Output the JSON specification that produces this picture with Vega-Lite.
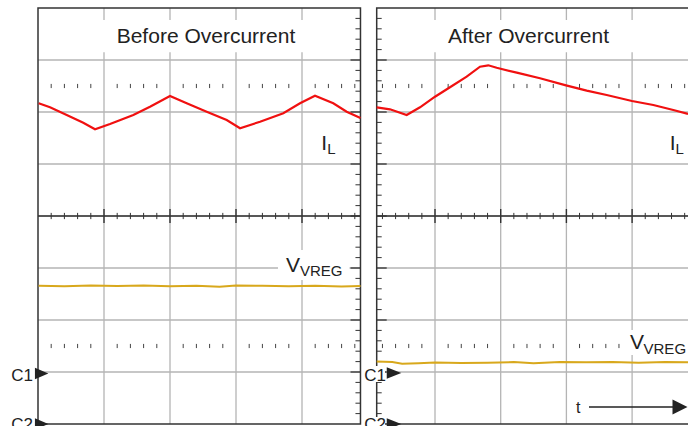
{
  "$schema": "https://vega.github.io/schema/vega-lite/v6.json",
  "width": 650,
  "height": 416,
  "autosize": {"type": "none"},
  "padding": {"left": 38, "top": 8, "right": 0, "bottom": 2},
  "background": "white",
  "config": {"view": {"stroke": null}, "text": {"font": "Liberation Sans", "color": "#222222"}},
  "datasets": {
    "major": [{"v": 1}, {"v": 2}, {"v": 3}, {"v": 4}],
    "yMajor": [{"v": -3}, {"v": -2}, {"v": -1}, {"v": 0}, {"v": 1}, {"v": 2}, {"v": 3}],
    "xMinor": [{"v": 0.2}, {"v": 0.4}, {"v": 0.6}, {"v": 0.8}, {"v": 1.2}, {"v": 1.4}, {"v": 1.6}, {"v": 1.8}, {"v": 2.2}, {"v": 2.4}, {"v": 2.6}, {"v": 2.8}, {"v": 3.2}, {"v": 3.4}, {"v": 3.6}, {"v": 3.8}, {"v": 4.2}, {"v": 4.4}, {"v": 4.6}, {"v": 4.8}],
    "yMinor": [{"v": -3.8}, {"v": -3.6}, {"v": -3.4}, {"v": -3.2}, {"v": -2.8}, {"v": -2.6}, {"v": -2.4}, {"v": -2.2}, {"v": -1.8}, {"v": -1.6}, {"v": -1.4}, {"v": -1.2}, {"v": -0.8}, {"v": -0.6}, {"v": -0.4}, {"v": -0.2}, {"v": 0.2}, {"v": 0.4}, {"v": 0.6}, {"v": 0.8}, {"v": 1.2}, {"v": 1.4}, {"v": 1.6}, {"v": 1.8}, {"v": 2.2}, {"v": 2.4}, {"v": 2.6}, {"v": 2.8}, {"v": 3.2}, {"v": 3.4}, {"v": 3.6}, {"v": 3.8}],
    "redL": [{"x": 0.01, "y": 2.167}, {"x": 0.182, "y": 2.09}, {"x": 0.435, "y": 1.942}, {"x": 0.686, "y": 1.794}, {"x": 0.864, "y": 1.667}, {"x": 1.091, "y": 1.769}, {"x": 1.444, "y": 1.942}, {"x": 1.697, "y": 2.102}, {"x": 2.0, "y": 2.308}, {"x": 2.253, "y": 2.167}, {"x": 2.556, "y": 2.006}, {"x": 2.859, "y": 1.846}, {"x": 3.061, "y": 1.687}, {"x": 3.364, "y": 1.813}, {"x": 3.717, "y": 1.975}, {"x": 3.97, "y": 2.167}, {"x": 4.197, "y": 2.313}, {"x": 4.474, "y": 2.167}, {"x": 4.677, "y": 2.006}, {"x": 4.886, "y": 1.885}],
    "yelL": [{"x": 0.01, "y": -1.342}, {"x": 0.4, "y": -1.35}, {"x": 0.8, "y": -1.338}, {"x": 1.2, "y": -1.346}, {"x": 1.6, "y": -1.335}, {"x": 2.0, "y": -1.35}, {"x": 2.4, "y": -1.342}, {"x": 2.75, "y": -1.36}, {"x": 3.0, "y": -1.338}, {"x": 3.4, "y": -1.34}, {"x": 3.8, "y": -1.35}, {"x": 4.2, "y": -1.34}, {"x": 4.6, "y": -1.355}, {"x": 4.886, "y": -1.346}],
    "redR": [{"x": 0.113, "y": 2.09}, {"x": 0.315, "y": 2.052}, {"x": 0.569, "y": 1.942}, {"x": 0.772, "y": 2.09}, {"x": 1.0, "y": 2.294}, {"x": 1.228, "y": 2.475}, {"x": 1.482, "y": 2.679}, {"x": 1.685, "y": 2.871}, {"x": 1.811, "y": 2.898}, {"x": 1.939, "y": 2.852}, {"x": 2.244, "y": 2.756}, {"x": 2.598, "y": 2.648}, {"x": 2.994, "y": 2.513}, {"x": 3.309, "y": 2.41}, {"x": 3.613, "y": 2.327}, {"x": 3.998, "y": 2.212}, {"x": 4.323, "y": 2.135}, {"x": 4.627, "y": 2.038}, {"x": 4.851, "y": 1.962}],
    "yelR": [{"x": 0.113, "y": -2.8}, {"x": 0.35, "y": -2.808}, {"x": 0.5, "y": -2.84}, {"x": 0.75, "y": -2.83}, {"x": 1.0, "y": -2.815}, {"x": 1.4, "y": -2.825}, {"x": 1.8, "y": -2.82}, {"x": 2.2, "y": -2.81}, {"x": 2.5, "y": -2.83}, {"x": 2.9, "y": -2.808}, {"x": 3.3, "y": -2.812}, {"x": 3.7, "y": -2.808}, {"x": 4.1, "y": -2.82}, {"x": 4.5, "y": -2.81}, {"x": 4.851, "y": -2.812}]
  },
  "resolve": {"scale": {"x": "independent"}},
  "layer": [
    {
      "layer": [
        {"data": {"name": "major"}, "mark": {"type": "rule", "color": "#b4b4b4", "strokeWidth": 1.3},
         "encoding": {"x": {"field": "v", "type": "quantitative", "scale": {"domain": [0, 9.8485], "nice": false, "zero": false}, "axis": null},
                      "y": {"datum": -4, "type": "quantitative", "scale": {"domain": [-4, 4], "nice": false, "zero": false}, "axis": null}, "y2": {"datum": 4}}},
        {"data": {"name": "yMajor"}, "mark": {"type": "rule", "color": "#b4b4b4", "strokeWidth": 1.3},
         "encoding": {"y": {"field": "v", "type": "quantitative", "scale": {"domain": [-4, 4], "nice": false, "zero": false}, "axis": null},
                      "x": {"datum": 0, "type": "quantitative", "scale": {"domain": [0, 9.8485], "nice": false, "zero": false}, "axis": null}, "x2": {"datum": 4.886}}},
        {"data": {"name": "xMinor"}, "mark": {"type": "rule", "color": "#444444", "strokeWidth": 1},
         "encoding": {"x": {"field": "v", "type": "quantitative", "scale": {"domain": [0, 9.8485], "nice": false, "zero": false}, "axis": null},
                      "y": {"datum": 2.54, "type": "quantitative", "scale": {"domain": [-4, 4], "nice": false, "zero": false}, "axis": null}, "y2": {"datum": 2.46}}},
        {"data": {"name": "xMinor"}, "mark": {"type": "rule", "color": "#444444", "strokeWidth": 1},
         "encoding": {"x": {"field": "v", "type": "quantitative", "scale": {"domain": [0, 9.8485], "nice": false, "zero": false}, "axis": null},
                      "y": {"datum": -2.46, "type": "quantitative", "scale": {"domain": [-4, 4], "nice": false, "zero": false}, "axis": null}, "y2": {"datum": -2.54}}},
        {"data": {"values": [{}]}, "mark": {"type": "rule", "color": "#333333", "strokeWidth": 1.3},
         "encoding": {"x": {"datum": 0, "type": "quantitative", "scale": {"domain": [0, 9.8485], "nice": false, "zero": false}, "axis": null}, "x2": {"datum": 4.886},
                      "y": {"datum": 0, "type": "quantitative", "scale": {"domain": [-4, 4], "nice": false, "zero": false}, "axis": null}}},
        {"data": {"name": "xMinor"}, "mark": {"type": "rule", "color": "#333333", "strokeWidth": 1},
         "encoding": {"x": {"field": "v", "type": "quantitative", "scale": {"domain": [0, 9.8485], "nice": false, "zero": false}, "axis": null},
                      "y": {"datum": 0.06, "type": "quantitative", "scale": {"domain": [-4, 4], "nice": false, "zero": false}, "axis": null}, "y2": {"datum": -0.06}}},
        {"data": {"name": "major"}, "mark": {"type": "rule", "color": "#333333", "strokeWidth": 1.4},
         "encoding": {"x": {"field": "v", "type": "quantitative", "scale": {"domain": [0, 9.8485], "nice": false, "zero": false}, "axis": null},
                      "y": {"datum": 0.135, "type": "quantitative", "scale": {"domain": [-4, 4], "nice": false, "zero": false}, "axis": null}, "y2": {"datum": -0.135}}},
        {"data": {"name": "yMinor"}, "mark": {"type": "rule", "color": "#333333", "strokeWidth": 1},
         "encoding": {"y": {"field": "v", "type": "quantitative", "scale": {"domain": [-4, 4], "nice": false, "zero": false}, "axis": null},
                      "x": {"datum": 4.81, "type": "quantitative", "scale": {"domain": [0, 9.8485], "nice": false, "zero": false}, "axis": null}, "x2": {"datum": 4.886}}},
        {"data": {"name": "yMajor"}, "mark": {"type": "rule", "color": "#333333", "strokeWidth": 1.3},
         "encoding": {"y": {"field": "v", "type": "quantitative", "scale": {"domain": [-4, 4], "nice": false, "zero": false}, "axis": null},
                      "x": {"datum": 4.735, "type": "quantitative", "scale": {"domain": [0, 9.8485], "nice": false, "zero": false}, "axis": null}, "x2": {"datum": 4.886}}},
        {"data": {"values": [{}]}, "mark": {"type": "rect", "filled": false, "color": "#333333", "strokeWidth": 1.5},
         "encoding": {"x": {"datum": 0, "type": "quantitative", "scale": {"domain": [0, 9.8485], "nice": false, "zero": false}, "axis": null}, "x2": {"datum": 4.886},
                      "y": {"datum": -4, "type": "quantitative", "scale": {"domain": [-4, 4], "nice": false, "zero": false}, "axis": null}, "y2": {"datum": 4}}},
        {"data": {"values": [{}]}, "mark": {"type": "rect", "color": "white", "opacity": 1},
         "encoding": {"x": {"datum": 0.03, "type": "quantitative", "scale": {"domain": [0, 9.8485], "nice": false, "zero": false}, "axis": null}, "x2": {"datum": 4.72},
                      "y": {"datum": 3.15, "type": "quantitative", "scale": {"domain": [-4, 4], "nice": false, "zero": false}, "axis": null}, "y2": {"datum": 3.77}}},
        {"data": {"values": [{}]}, "mark": {"type": "rect", "color": "white", "opacity": 1},
         "encoding": {"x": {"datum": 3.636, "type": "quantitative", "scale": {"domain": [0, 9.8485], "nice": false, "zero": false}, "axis": null}, "x2": {"datum": 4.72},
                      "y": {"datum": -1.231, "type": "quantitative", "scale": {"domain": [-4, 4], "nice": false, "zero": false}, "axis": null}, "y2": {"datum": -0.654}}},
        {"data": {"name": "redL"}, "mark": {"type": "line", "color": "#f01010", "strokeWidth": 2.2},
         "encoding": {"x": {"field": "x", "type": "quantitative", "scale": {"domain": [0, 9.8485], "nice": false, "zero": false}, "axis": null},
                      "y": {"field": "y", "type": "quantitative", "scale": {"domain": [-4, 4], "nice": false, "zero": false}, "axis": null}}},
        {"data": {"name": "yelL"}, "mark": {"type": "line", "color": "#d8a81c", "strokeWidth": 2},
         "encoding": {"x": {"field": "x", "type": "quantitative", "scale": {"domain": [0, 9.8485], "nice": false, "zero": false}, "axis": null},
                      "y": {"field": "y", "type": "quantitative", "scale": {"domain": [-4, 4], "nice": false, "zero": false}, "axis": null}}},
        {"data": {"values": [{}]}, "mark": {"type": "text", "text": "Before Overcurrent", "fontSize": 21, "align": "center", "baseline": "alphabetic"},
         "encoding": {"x": {"datum": 2.545, "type": "quantitative", "scale": {"domain": [0, 9.8485], "nice": false, "zero": false}, "axis": null},
                      "y": {"datum": 3.321, "type": "quantitative", "scale": {"domain": [-4, 4], "nice": false, "zero": false}, "axis": null}}},
        {"data": {"values": [{}]}, "mark": {"type": "text", "text": "I", "fontSize": 21, "align": "left", "baseline": "alphabetic"},
         "encoding": {"x": {"datum": 4.292, "type": "quantitative", "scale": {"domain": [0, 9.8485], "nice": false, "zero": false}, "axis": null},
                      "y": {"datum": 1.269, "type": "quantitative", "scale": {"domain": [-4, 4], "nice": false, "zero": false}, "axis": null}}},
        {"data": {"values": [{}]}, "mark": {"type": "text", "text": "L", "fontSize": 15, "align": "left", "baseline": "alphabetic"},
         "encoding": {"x": {"datum": 4.382, "type": "quantitative", "scale": {"domain": [0, 9.8485], "nice": false, "zero": false}, "axis": null},
                      "y": {"datum": 1.187, "type": "quantitative", "scale": {"domain": [-4, 4], "nice": false, "zero": false}, "axis": null}}},
        {"data": {"values": [{}]}, "mark": {"type": "text", "text": "V", "fontSize": 21, "align": "left", "baseline": "alphabetic"},
         "encoding": {"x": {"datum": 3.758, "type": "quantitative", "scale": {"domain": [0, 9.8485], "nice": false, "zero": false}, "axis": null},
                      "y": {"datum": -1.071, "type": "quantitative", "scale": {"domain": [-4, 4], "nice": false, "zero": false}, "axis": null}}},
        {"data": {"values": [{}]}, "mark": {"type": "text", "text": "VREG", "fontSize": 15, "align": "left", "baseline": "alphabetic"},
         "encoding": {"x": {"datum": 3.97, "type": "quantitative", "scale": {"domain": [0, 9.8485], "nice": false, "zero": false}, "axis": null},
                      "y": {"datum": -1.154, "type": "quantitative", "scale": {"domain": [-4, 4], "nice": false, "zero": false}, "axis": null}}},
        {"data": {"values": [{}]}, "mark": {"type": "text", "text": "C1", "fontSize": 17, "align": "right", "baseline": "alphabetic"},
         "encoding": {"x": {"datum": -0.076, "type": "quantitative", "scale": {"domain": [0, 9.8485], "nice": false, "zero": false}, "axis": null},
                      "y": {"datum": -3.167, "type": "quantitative", "scale": {"domain": [-4, 4], "nice": false, "zero": false}, "axis": null}}},
        {"data": {"values": [{}]}, "mark": {"type": "text", "text": "C2", "fontSize": 17, "align": "right", "baseline": "alphabetic"},
         "encoding": {"x": {"datum": -0.076, "type": "quantitative", "scale": {"domain": [0, 9.8485], "nice": false, "zero": false}, "axis": null},
                      "y": {"datum": -4.11, "type": "quantitative", "scale": {"domain": [-4, 4], "nice": false, "zero": false}, "axis": null}}},
        {"data": {"values": [{}]}, "mark": {"type": "point", "shape": "M-1,-0.85L1,0L-1,0.85Z", "size": 180, "filled": true, "color": "#222222", "opacity": 1},
         "encoding": {"x": {"datum": 0.055, "type": "quantitative", "scale": {"domain": [0, 9.8485], "nice": false, "zero": false}, "axis": null},
                      "y": {"datum": -3.03, "type": "quantitative", "scale": {"domain": [-4, 4], "nice": false, "zero": false}, "axis": null}}},
        {"data": {"values": [{}]}, "mark": {"type": "point", "shape": "M-1,-0.85L1,0L-1,0.85Z", "size": 180, "filled": true, "color": "#222222", "opacity": 1},
         "encoding": {"x": {"datum": 0.055, "type": "quantitative", "scale": {"domain": [0, 9.8485], "nice": false, "zero": false}, "axis": null},
                      "y": {"datum": -4.0, "type": "quantitative", "scale": {"domain": [-4, 4], "nice": false, "zero": false}, "axis": null}}}
      ]
    },
    {
      "layer": [
        {"data": {"name": "major"}, "mark": {"type": "rule", "color": "#b4b4b4", "strokeWidth": 1.3},
         "encoding": {"x": {"field": "v", "type": "quantitative", "scale": {"domain": [-5.0426, 4.8508], "nice": false, "zero": false}, "axis": null},
                      "y": {"datum": -4, "type": "quantitative", "scale": {"domain": [-4, 4], "nice": false, "zero": false}, "axis": null}, "y2": {"datum": 4}}},
        {"data": {"name": "yMajor"}, "mark": {"type": "rule", "color": "#b4b4b4", "strokeWidth": 1.3},
         "encoding": {"y": {"field": "v", "type": "quantitative", "scale": {"domain": [-4, 4], "nice": false, "zero": false}, "axis": null},
                      "x": {"datum": 0.1126, "type": "quantitative", "scale": {"domain": [-5.0426, 4.8508], "nice": false, "zero": false}, "axis": null}, "x2": {"datum": 4.9}}},
        {"data": {"name": "xMinor"}, "mark": {"type": "rule", "color": "#444444", "strokeWidth": 1},
         "encoding": {"x": {"field": "v", "type": "quantitative", "scale": {"domain": [-5.0426, 4.8508], "nice": false, "zero": false}, "axis": null},
                      "y": {"datum": 2.54, "type": "quantitative", "scale": {"domain": [-4, 4], "nice": false, "zero": false}, "axis": null}, "y2": {"datum": 2.46}}},
        {"data": {"name": "xMinor"}, "mark": {"type": "rule", "color": "#444444", "strokeWidth": 1},
         "encoding": {"x": {"field": "v", "type": "quantitative", "scale": {"domain": [-5.0426, 4.8508], "nice": false, "zero": false}, "axis": null},
                      "y": {"datum": -2.46, "type": "quantitative", "scale": {"domain": [-4, 4], "nice": false, "zero": false}, "axis": null}, "y2": {"datum": -2.54}}},
        {"data": {"values": [{}]}, "mark": {"type": "rule", "color": "#333333", "strokeWidth": 1.3},
         "encoding": {"x": {"datum": 0.1126, "type": "quantitative", "scale": {"domain": [-5.0426, 4.8508], "nice": false, "zero": false}, "axis": null}, "x2": {"datum": 4.9},
                      "y": {"datum": 0, "type": "quantitative", "scale": {"domain": [-4, 4], "nice": false, "zero": false}, "axis": null}}},
        {"data": {"name": "xMinor"}, "mark": {"type": "rule", "color": "#333333", "strokeWidth": 1},
         "encoding": {"x": {"field": "v", "type": "quantitative", "scale": {"domain": [-5.0426, 4.8508], "nice": false, "zero": false}, "axis": null},
                      "y": {"datum": 0.06, "type": "quantitative", "scale": {"domain": [-4, 4], "nice": false, "zero": false}, "axis": null}, "y2": {"datum": -0.06}}},
        {"data": {"name": "major"}, "mark": {"type": "rule", "color": "#333333", "strokeWidth": 1.4},
         "encoding": {"x": {"field": "v", "type": "quantitative", "scale": {"domain": [-5.0426, 4.8508], "nice": false, "zero": false}, "axis": null},
                      "y": {"datum": 0.135, "type": "quantitative", "scale": {"domain": [-4, 4], "nice": false, "zero": false}, "axis": null}, "y2": {"datum": -0.135}}},
        {"data": {"name": "yMinor"}, "mark": {"type": "rule", "color": "#333333", "strokeWidth": 1},
         "encoding": {"y": {"field": "v", "type": "quantitative", "scale": {"domain": [-4, 4], "nice": false, "zero": false}, "axis": null},
                      "x": {"datum": 0.1126, "type": "quantitative", "scale": {"domain": [-5.0426, 4.8508], "nice": false, "zero": false}, "axis": null}, "x2": {"datum": 0.1887}}},
        {"data": {"name": "yMajor"}, "mark": {"type": "rule", "color": "#333333", "strokeWidth": 1.3},
         "encoding": {"y": {"field": "v", "type": "quantitative", "scale": {"domain": [-4, 4], "nice": false, "zero": false}, "axis": null},
                      "x": {"datum": 0.1126, "type": "quantitative", "scale": {"domain": [-5.0426, 4.8508], "nice": false, "zero": false}, "axis": null}, "x2": {"datum": 0.2648}}},
        {"data": {"values": [{}]}, "mark": {"type": "rect", "filled": false, "color": "#333333", "strokeWidth": 1.5},
         "encoding": {"x": {"datum": 0.1126, "type": "quantitative", "scale": {"domain": [-5.0426, 4.8508], "nice": false, "zero": false}, "axis": null}, "x2": {"datum": 4.9},
                      "y": {"datum": -4, "type": "quantitative", "scale": {"domain": [-4, 4], "nice": false, "zero": false}, "axis": null}, "y2": {"datum": 4}}},
        {"data": {"values": [{}]}, "mark": {"type": "rect", "color": "white", "opacity": 1},
         "encoding": {"x": {"datum": 0.3, "type": "quantitative", "scale": {"domain": [-5.0426, 4.8508], "nice": false, "zero": false}, "axis": null}, "x2": {"datum": 4.9},
                      "y": {"datum": 3.15, "type": "quantitative", "scale": {"domain": [-4, 4], "nice": false, "zero": false}, "axis": null}, "y2": {"datum": 3.77}}},
        {"data": {"values": [{}]}, "mark": {"type": "rect", "color": "white", "opacity": 1},
         "encoding": {"x": {"datum": 3.892, "type": "quantitative", "scale": {"domain": [-5.0426, 4.8508], "nice": false, "zero": false}, "axis": null}, "x2": {"datum": 4.9},
                      "y": {"datum": -2.673, "type": "quantitative", "scale": {"domain": [-4, 4], "nice": false, "zero": false}, "axis": null}, "y2": {"datum": -2.192}}},
        {"data": {"values": [{}]}, "mark": {"type": "rect", "color": "white", "opacity": 1},
         "encoding": {"x": {"datum": -0.1035, "type": "quantitative", "scale": {"domain": [-5.0426, 4.8508], "nice": false, "zero": false}, "axis": null}, "x2": {"datum": 0.239},
                      "y": {"datum": -3.192, "type": "quantitative", "scale": {"domain": [-4, 4], "nice": false, "zero": false}, "axis": null}, "y2": {"datum": -2.885}}},
        {"data": {"values": [{}]}, "mark": {"type": "rect", "color": "white", "opacity": 1},
         "encoding": {"x": {"datum": -0.1035, "type": "quantitative", "scale": {"domain": [-5.0426, 4.8508], "nice": false, "zero": false}, "axis": null}, "x2": {"datum": 0.239},
                      "y": {"datum": -4.2, "type": "quantitative", "scale": {"domain": [-4, 4], "nice": false, "zero": false}, "axis": null}, "y2": {"datum": -3.865}}},
        {"data": {"name": "redR"}, "mark": {"type": "line", "color": "#f01010", "strokeWidth": 2.2},
         "encoding": {"x": {"field": "x", "type": "quantitative", "scale": {"domain": [-5.0426, 4.8508], "nice": false, "zero": false}, "axis": null},
                      "y": {"field": "y", "type": "quantitative", "scale": {"domain": [-4, 4], "nice": false, "zero": false}, "axis": null}}},
        {"data": {"name": "yelR"}, "mark": {"type": "line", "color": "#d8a81c", "strokeWidth": 2},
         "encoding": {"x": {"field": "x", "type": "quantitative", "scale": {"domain": [-5.0426, 4.8508], "nice": false, "zero": false}, "axis": null},
                      "y": {"field": "y", "type": "quantitative", "scale": {"domain": [-4, 4], "nice": false, "zero": false}, "axis": null}}},
        {"data": {"values": [{}]}, "mark": {"type": "text", "text": "After Overcurrent", "fontSize": 21, "align": "center", "baseline": "alphabetic"},
         "encoding": {"x": {"datum": 2.423, "type": "quantitative", "scale": {"domain": [-5.0426, 4.8508], "nice": false, "zero": false}, "axis": null},
                      "y": {"datum": 3.321, "type": "quantitative", "scale": {"domain": [-4, 4], "nice": false, "zero": false}, "axis": null}}},
        {"data": {"values": [{}]}, "mark": {"type": "text", "text": "I", "fontSize": 21, "align": "left", "baseline": "alphabetic"},
         "encoding": {"x": {"datum": 4.572, "type": "quantitative", "scale": {"domain": [-5.0426, 4.8508], "nice": false, "zero": false}, "axis": null},
                      "y": {"datum": 1.269, "type": "quantitative", "scale": {"domain": [-4, 4], "nice": false, "zero": false}, "axis": null}}},
        {"data": {"values": [{}]}, "mark": {"type": "text", "text": "L", "fontSize": 15, "align": "left", "baseline": "alphabetic"},
         "encoding": {"x": {"datum": 4.662, "type": "quantitative", "scale": {"domain": [-5.0426, 4.8508], "nice": false, "zero": false}, "axis": null},
                      "y": {"datum": 1.187, "type": "quantitative", "scale": {"domain": [-4, 4], "nice": false, "zero": false}, "axis": null}}},
        {"data": {"values": [{}]}, "mark": {"type": "text", "text": "V", "fontSize": 21, "align": "left", "baseline": "alphabetic"},
         "encoding": {"x": {"datum": 3.968, "type": "quantitative", "scale": {"domain": [-5.0426, 4.8508], "nice": false, "zero": false}, "axis": null},
                      "y": {"datum": -2.564, "type": "quantitative", "scale": {"domain": [-4, 4], "nice": false, "zero": false}, "axis": null}}},
        {"data": {"values": [{}]}, "mark": {"type": "text", "text": "VREG", "fontSize": 15, "align": "left", "baseline": "alphabetic"},
         "encoding": {"x": {"datum": 4.174, "type": "quantitative", "scale": {"domain": [-5.0426, 4.8508], "nice": false, "zero": false}, "axis": null},
                      "y": {"datum": -2.646, "type": "quantitative", "scale": {"domain": [-4, 4], "nice": false, "zero": false}, "axis": null}}},
        {"data": {"values": [{}]}, "mark": {"type": "text", "text": "C1", "fontSize": 17, "align": "right", "baseline": "alphabetic"},
         "encoding": {"x": {"datum": 0.254, "type": "quantitative", "scale": {"domain": [-5.0426, 4.8508], "nice": false, "zero": false}, "axis": null},
                      "y": {"datum": -3.167, "type": "quantitative", "scale": {"domain": [-4, 4], "nice": false, "zero": false}, "axis": null}}},
        {"data": {"values": [{}]}, "mark": {"type": "text", "text": "C2", "fontSize": 17, "align": "right", "baseline": "alphabetic"},
         "encoding": {"x": {"datum": 0.254, "type": "quantitative", "scale": {"domain": [-5.0426, 4.8508], "nice": false, "zero": false}, "axis": null},
                      "y": {"datum": -4.11, "type": "quantitative", "scale": {"domain": [-4, 4], "nice": false, "zero": false}, "axis": null}}},
        {"data": {"values": [{}]}, "mark": {"type": "point", "shape": "M-1,-0.8L1,0L-1,0.8Z", "size": 210, "filled": true, "color": "#222222", "opacity": 1},
         "encoding": {"x": {"datum": 0.376, "type": "quantitative", "scale": {"domain": [-5.0426, 4.8508], "nice": false, "zero": false}, "axis": null},
                      "y": {"datum": -3.02, "type": "quantitative", "scale": {"domain": [-4, 4], "nice": false, "zero": false}, "axis": null}}},
        {"data": {"values": [{}]}, "mark": {"type": "point", "shape": "M-1,-0.8L1,0L-1,0.8Z", "size": 210, "filled": true, "color": "#222222", "opacity": 1},
         "encoding": {"x": {"datum": 0.376, "type": "quantitative", "scale": {"domain": [-5.0426, 4.8508], "nice": false, "zero": false}, "axis": null},
                      "y": {"datum": -4.0, "type": "quantitative", "scale": {"domain": [-4, 4], "nice": false, "zero": false}, "axis": null}}},
        {"data": {"values": [{}]}, "mark": {"type": "text", "text": "t", "fontSize": 16, "align": "left", "baseline": "alphabetic"},
         "encoding": {"x": {"datum": 3.146, "type": "quantitative", "scale": {"domain": [-5.0426, 4.8508], "nice": false, "zero": false}, "axis": null},
                      "y": {"datum": -3.794, "type": "quantitative", "scale": {"domain": [-4, 4], "nice": false, "zero": false}, "axis": null}}},
        {"data": {"values": [{}]}, "mark": {"type": "rule", "color": "#222222", "strokeWidth": 1.5},
         "encoding": {"x": {"datum": 3.344, "type": "quantitative", "scale": {"domain": [-5.0426, 4.8508], "nice": false, "zero": false}, "axis": null}, "x2": {"datum": 4.653},
                      "y": {"datum": -3.673, "type": "quantitative", "scale": {"domain": [-4, 4], "nice": false, "zero": false}, "axis": null}}},
        {"data": {"values": [{}]}, "mark": {"type": "point", "shape": "M-1,-1L1,0L-1,1Z", "size": 225, "filled": true, "color": "#222222", "opacity": 1},
         "encoding": {"x": {"datum": 4.729, "type": "quantitative", "scale": {"domain": [-5.0426, 4.8508], "nice": false, "zero": false}, "axis": null},
                      "y": {"datum": -3.673, "type": "quantitative", "scale": {"domain": [-4, 4], "nice": false, "zero": false}, "axis": null}}}
      ]
    }
  ]
}
